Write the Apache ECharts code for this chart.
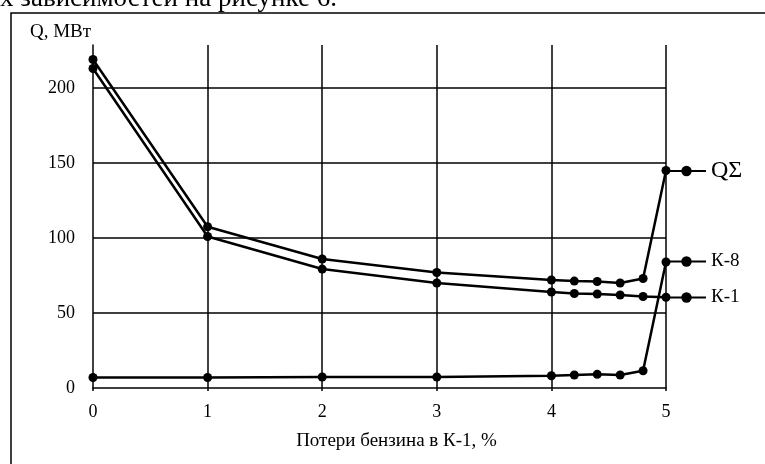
<!DOCTYPE html>
<html>
  <head>
    <meta charset="utf-8" />
    <title>Q vs losses</title>
    <script src="https://cdn.jsdelivr.net/npm/echarts@6.0.0/dist/echarts.min.js"></script>
    <style>
      body { margin: 0; background: #fff; }
      #chart { width: 765px; height: 464px; }
    </style>
  </head>
<body>
  <div id="chart"></div>
  <script type="text/javascript">
// потери бензина, %
var losses = [0, 1, 2, 3, 4, 4.2, 4.4, 4.6, 4.8, 5];
var qSum = [219, 107.5, 86, 77, 72, 71.3, 71, 70, 73, 145];
var qK1 = [213, 101, 79.3, 70, 64, 63, 62.7, 62, 61, 60.5];
var qK8 = [7, 7, 7.3, 7.3, 8.2, 8.7, 9.1, 8.7, 11.5, 84];
var names = ['QΣ', 'К-8', 'К-1'];

var font = '"Liberation Serif", "DejaVu Serif", serif';

function pairs(ys) {
  return losses.map(function (x, i) { return [x, ys[i]]; });
}

function mkSeries(name, ys) {
  return {
    name: name,
    type: 'line',
    data: pairs(ys),
    symbol: 'circle',
    symbolSize: 9,
    itemStyle: { color: '#000' },
    lineStyle: { color: '#000', width: 2.5 },
    emphasis: { disabled: true },
    animation: false
  };
}

function mkLegend(name, top, size) {
  return {
    data: [name],
    left: 666,
    top: top,
    padding: 0,
    itemWidth: 39,
    itemHeight: 13,
    itemGap: 0,
    textStyle: { fontFamily: font, fontSize: size, color: '#000' },
    selectedMode: false
  };
}

var chart = echarts.init(document.getElementById('chart'));
var option = {
  backgroundColor: '#fff',
  grid: { left: 93, right: 99, top: 45, bottom: 76 },
  xAxis: {
    type: 'value',
    min: 0,
    max: 5,
    interval: 1,
    name: 'Потери бензина в К-1, %',
    nameLocation: 'middle',
    nameGap: 44,
    nameTextStyle: { fontFamily: font, fontSize: 19, color: '#000', padding: [0, 0, 0, 34] },
    axisLine: { lineStyle: { color: '#000', width: 1.5 } },
    axisTick: { show: true, length: 3, lineStyle: { color: '#000', width: 1.5 } },
    axisLabel: { fontFamily: font, fontSize: 18, color: '#000', margin: 15 },
    splitLine: { show: true, showMinLine: false, lineStyle: { color: '#000', width: 1.5 } }
  },
  yAxis: {
    type: 'value',
    min: 0,
    max: 228.7,
    interval: 50,
    name: 'Q, МВт',
    nameLocation: 'end',
    nameGap: 3,
    nameTextStyle: { fontFamily: font, fontSize: 19, color: '#000', align: 'right', padding: [0, 2, 0, 0] },
    axisLine: { show: true, lineStyle: { color: '#000', width: 1.5 } },
    axisTick: { show: false },
    axisLabel: { fontFamily: font, fontSize: 18, color: '#000', margin: 18, showMaxLabel: false },
    splitLine: { show: true, showMinLine: false, showMaxLine: false, lineStyle: { color: '#000', width: 1.5 } }
  },
  legend: [
    mkLegend(names[0], 159, 24),
    mkLegend(names[1], 252, 19),
    mkLegend(names[2], 288, 19)
  ],
  graphic: [
    {
      type: 'rect',
      shape: { x: 11, y: 13, width: 800, height: 500 },
      style: { fill: null, stroke: '#000', lineWidth: 1.5 },
      silent: true
    },
    {
      type: 'text',
      left: 0,
      top: -15,
      style: { text: 'х зависимостей на рисунке 6.', font: '27px ' + font, fill: '#000' },
      silent: true
    }
  ],
  series: [
    mkSeries(names[0], qSum),
    mkSeries(names[1], qK8),
    mkSeries(names[2], qK1)
  ]
};
chart.setOption(option);
</script>
</body>
</html>
